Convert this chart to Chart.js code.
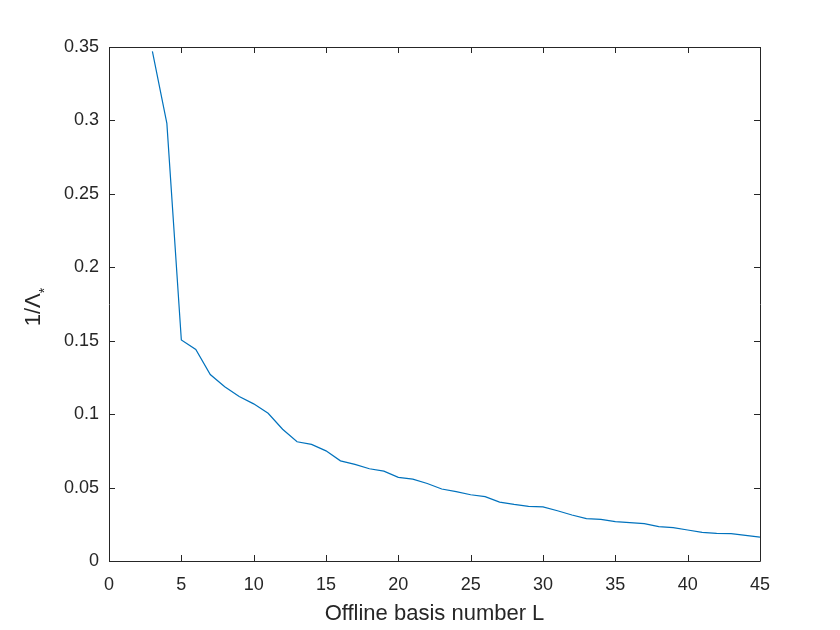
<!DOCTYPE html>
<html>
<head>
<meta charset="utf-8">
<script src="https://cdn.jsdelivr.net/npm/chart.js@4.4.1/dist/chart.umd.min.js"></script>
<style>
  html, body { margin: 0; padding: 0; background: #fff; }
  #wrap { width: 840px; height: 630px; }
</style>
</head>
<body>
<div id="wrap"><canvas id="curve" width="840" height="630"></canvas></div>
<script>
// basis number L and the matching 1/Lambda_* values
const basisL = [3, 4, 5, 6, 7, 8, 9, 10, 11, 12, 13, 14, 15, 16, 17, 18, 19, 20, 21, 22, 23, 24,
  25, 26, 27, 28, 29, 30, 31, 32, 33, 34, 35, 36, 37, 38, 39, 40, 41, 42, 43, 44, 45];
const invLambda = [0.347, 0.298, 0.1505, 0.144, 0.127, 0.1187, 0.112, 0.107, 0.1006, 0.0897,
  0.0812, 0.0794, 0.075, 0.0682, 0.0658, 0.0628, 0.0612, 0.057, 0.0557, 0.0528, 0.049, 0.0472,
  0.0451, 0.0438, 0.0401, 0.0385, 0.0372, 0.0369, 0.0342, 0.0313, 0.0288, 0.0283, 0.0268,
  0.0261, 0.0254, 0.0234, 0.0227, 0.0211, 0.0195, 0.0188, 0.0186, 0.0175, 0.0163];

const xTicks = [0, 5, 10, 15, 20, 25, 30, 35, 40, 45];
const yTicks = [0, 0.05, 0.1, 0.15, 0.2, 0.25, 0.3, 0.35];

const axisColor = "#262626";
const fontFamily = "'Liberation Sans', Arial, Helvetica, sans-serif";

/* ================= frame, inward ticks, y title ================= */

const matlabBox = {
  id: "matlabBox",
  afterDraw(chart) {
    const { ctx, chartArea: a, scales } = chart;
    const len = 6;
    ctx.save();
    ctx.strokeStyle = axisColor;
    ctx.lineWidth = 1;
    ctx.beginPath();
    ctx.rect(Math.round(a.left) + 0.5, Math.round(a.top) + 0.5,
      Math.round(a.right - a.left), Math.round(a.bottom - a.top));
    xTicks.forEach(function (t) {
      const px = Math.round(scales.x.getPixelForValue(t)) + 0.5;
      ctx.moveTo(px, a.bottom); ctx.lineTo(px, a.bottom - len);
      ctx.moveTo(px, a.top); ctx.lineTo(px, a.top + len);
    });
    yTicks.forEach(function (t) {
      const py = Math.round(scales.y.getPixelForValue(t)) + 0.5;
      ctx.moveTo(a.left, py); ctx.lineTo(a.left + len, py);
      ctx.moveTo(a.right, py); ctx.lineTo(a.right - len, py);
    });
    ctx.stroke();

    // y title: 1/Λ with a subscript asterisk
    const cy = (a.top + a.bottom) / 2 + 3;
    ctx.translate(40, cy);
    ctx.rotate(-Math.PI / 2);
    ctx.fillStyle = axisColor;
    ctx.textBaseline = "alphabetic";
    ctx.font = "22px " + fontFamily;
    const main = "1/Λ";
    const w1 = ctx.measureText(main).width;
    ctx.font = "14px " + fontFamily;
    const w2 = ctx.measureText("*").width;
    const x0 = -(w1 + w2) / 2;
    ctx.font = "22px " + fontFamily;
    ctx.fillText(main, x0, 0);
    ctx.font = "14px " + fontFamily;
    ctx.fillText("*", x0 + w1, 8.5);
    ctx.restore();
  },
};

const ctx = document.getElementById("curve");

new Chart(ctx, {
  type: "line",
  data: {
    datasets: [
      {
        data: basisL.map(function (l, i) { return { x: l, y: invLambda[i] }; }),
        borderColor: "#0072BD",
        borderWidth: 1.2,
        pointRadius: 0,
        tension: 0,
        fill: false,
      },
    ],
  },
  options: {
    responsive: false,
    animation: false,
    layout: { padding: { left: 0, top: 47, right: 80, bottom: 0 } },
    plugins: {
      legend: { display: false },
      tooltip: { enabled: false },
    },
    scales: {
      x: {
        type: "linear",
        min: 0,
        max: 45,
        afterBuildTicks: function (s) { s.ticks = xTicks.map(function (v) { return { value: v }; }); },
        afterFit: function (s) { s.height = 69; },
        grid: { display: false, drawTicks: false },
        border: { display: false },
        ticks: {
          color: axisColor,
          padding: 13,
          maxRotation: 0,
          font: { family: fontFamily, size: 18 },
          callback: function (v) { return String(v); },
        },
        title: {
          display: true,
          text: "Offline basis number L",
          color: axisColor,
          padding: { top: 0, bottom: 3 },
          font: { family: fontFamily, size: 22 },
        },
      },
      y: {
        min: 0,
        max: 0.35,
        afterBuildTicks: function (s) { s.ticks = yTicks.map(function (v) { return { value: v }; }); },
        afterFit: function (s) { s.width = 109; },
        grid: { display: false, drawTicks: false },
        border: { display: false },
        ticks: {
          color: axisColor,
          padding: 10,
          font: { family: fontFamily, size: 18 },
          callback: function (v) { return String(+v.toFixed(2)); },
        },
      },
    },
  },
  plugins: [matlabBox],
});
</script>
</body>
</html>
